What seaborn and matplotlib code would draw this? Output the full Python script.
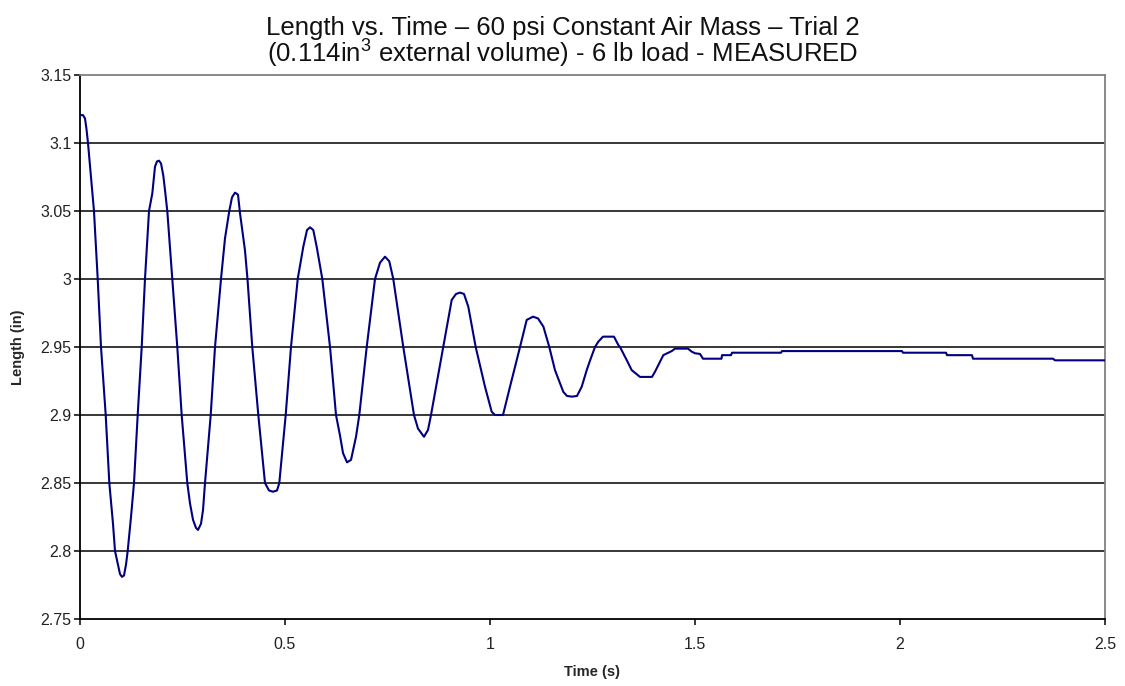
import matplotlib
matplotlib.use("Agg")
import matplotlib.pyplot as plt
import pandas as pd
import seaborn as sns

# Measured length trace (s, in)
time_s = [
    0.0000, 0.0073, 0.0122, 0.0159, 0.0195, 0.0268, 0.0341, 0.0432, 0.0512, 0.0627,
    0.0715, 0.0805, 0.0854, 0.0927, 0.0976, 0.1024, 0.1073, 0.1122, 0.1163, 0.1244,
    0.1317, 0.1407, 0.1505, 0.1585, 0.1683, 0.1764, 0.1829, 0.1878, 0.1927, 0.1976,
    0.2032, 0.2073, 0.2129, 0.2251, 0.2373, 0.2480, 0.2617, 0.2683, 0.2756, 0.2829,
    0.2878, 0.2951, 0.3000, 0.3049, 0.3188, 0.3293, 0.3439, 0.3537, 0.3641, 0.3707,
    0.3780, 0.3854, 0.3902, 0.4024, 0.4085, 0.4202, 0.4349, 0.4512, 0.4610, 0.4707,
    0.4805, 0.4861, 0.5017, 0.5146, 0.5310, 0.5446, 0.5537, 0.5610, 0.5690, 0.5773,
    0.5910, 0.6098, 0.6244, 0.6341, 0.6415, 0.6512, 0.6610, 0.6732, 0.6812, 0.6993,
    0.7195, 0.7317, 0.7439, 0.7544, 0.7641, 0.7885, 0.8146, 0.8244, 0.8390, 0.8488,
    0.8561, 0.8861, 0.9066, 0.9171, 0.9268, 0.9366, 0.9471, 0.9651, 0.9878, 1.0041,
    1.0122, 1.0317, 1.0488, 1.0732, 1.0895, 1.1049, 1.1171, 1.1302, 1.1446, 1.1585,
    1.1788, 1.1878, 1.2000, 1.2122, 1.2237, 1.2359, 1.2439, 1.2561, 1.2641, 1.2756,
    1.3024, 1.3129, 1.3171, 1.3334, 1.3456, 1.3659, 1.3951, 1.4024, 1.4227, 1.4432,
    1.4512, 1.4829, 1.4919, 1.5000, 1.5122, 1.5195, 1.5646, 1.5659, 1.5878, 1.5902,
    1.7098, 1.7122, 2.0049, 2.0073, 2.1122, 2.1146, 2.1756, 2.1780, 2.3732, 2.3780,
    2.5000,
]
length_in = [
    3.1205, 3.1205, 3.1180, 3.1100, 3.1000, 3.0750, 3.0500, 3.0000, 2.9500, 2.9000,
    2.8500, 2.8200, 2.8000, 2.7900, 2.7830, 2.7810, 2.7820, 2.7900, 2.8000, 2.8250,
    2.8500, 2.9000, 2.9500, 3.0000, 3.0500, 3.0630, 3.0826, 3.0865, 3.0870, 3.0850,
    3.0760, 3.0654, 3.0500, 3.0000, 2.9500, 2.9000, 2.8500, 2.8350, 2.8230, 2.8170,
    2.8155, 2.8200, 2.8300, 2.8500, 2.9000, 2.9500, 3.0000, 3.0300, 3.0500, 3.0600,
    3.0635, 3.0620, 3.0485, 3.0210, 3.0000, 2.9500, 2.9000, 2.8500, 2.8445, 2.8436,
    2.8445, 2.8500, 2.9000, 2.9500, 3.0000, 3.0237, 3.0360, 3.0380, 3.0360, 3.0237,
    3.0000, 2.9500, 2.9000, 2.8850, 2.8720, 2.8652, 2.8670, 2.8840, 2.9000, 2.9500,
    3.0000, 3.0120, 3.0164, 3.0130, 3.0000, 2.9500, 2.9000, 2.8900, 2.8840, 2.8890,
    2.9000, 2.9500, 2.9846, 2.9890, 2.9900, 2.9890, 2.9796, 2.9500, 2.9208, 2.9024,
    2.9000, 2.9000, 2.9208, 2.9500, 2.9699, 2.9723, 2.9710, 2.9650, 2.9500, 2.9330,
    2.9170, 2.9140, 2.9135, 2.9140, 2.9208, 2.9330, 2.9400, 2.9500, 2.9539, 2.9576,
    2.9576, 2.9515, 2.9500, 2.9404, 2.9330, 2.9280, 2.9280, 2.9318, 2.9440, 2.9470,
    2.9488, 2.9488, 2.9466, 2.9454, 2.9449, 2.9414, 2.9414, 2.9440, 2.9440, 2.9458,
    2.9458, 2.9470, 2.9470, 2.9458, 2.9458, 2.9440, 2.9440, 2.9414, 2.9414, 2.9402,
    2.9402,
]

x_ticks = [0, 0.5, 1, 1.5, 2, 2.5]
x_tick_labels = ["0", "0.5", "1", "1.5", "2", "2.5"]
y_ticks = [2.75, 2.8, 2.85, 2.9, 2.95, 3.0, 3.05, 3.1, 3.15]
y_tick_labels = ["2.75", "2.8", "2.85", "2.9", "2.95", "3", "3.05", "3.1", "3.15"]

title_line1 = "Length vs. Time \u2013 60 psi Constant Air Mass \u2013 Trial 2"
title_line2 = r"(0.114in$^{3}$ external volume) - 6 lb load - MEASURED"

df = pd.DataFrame({"Time (s)": time_s, "Length (in)": length_in})

sns.set_theme(style="white")
plt.rcParams["font.family"] = ["Liberation Sans", "DejaVu Sans"]
plt.rcParams["mathtext.fontset"] = "custom"
plt.rcParams["mathtext.rm"] = "Liberation Sans"
plt.rcParams["mathtext.it"] = "Liberation Sans"
plt.rcParams["mathtext.bf"] = "Liberation Sans:bold"

fig, ax = plt.subplots(figsize=(11.25, 6.86), dpi=100)
fig.subplots_adjust(left=80 / 1125, right=1105 / 1125, top=1 - 75 / 686, bottom=1 - 619 / 686)

sns.lineplot(data=df, x="Time (s)", y="Length (in)", ax=ax, estimator=None, sort=False,
             color="#000080", linewidth=1.5, zorder=3)

ax.set_xlim(0, 2.5)
ax.set_ylim(2.75, 3.15)
ax.set_xticks(x_ticks)
ax.set_xticklabels(x_tick_labels)
ax.set_yticks(y_ticks)
ax.set_yticklabels(y_tick_labels)

ax.grid(False)
for yv in y_ticks[1:-1]:
    ax.axhline(yv, color="black", linewidth=1.1, zorder=1)

for side in ("left", "bottom"):
    ax.spines[side].set_color("black")
    ax.spines[side].set_linewidth(1.3)
for side in ("top", "right"):
    ax.spines[side].set_visible(True)
    ax.spines[side].set_color("#808080")
    ax.spines[side].set_linewidth(1.3)

ax.tick_params(axis="both", which="major", direction="out", length=4, width=1.1,
               color="black", labelsize=11.5, labelcolor="#222222")
ax.tick_params(axis="y", pad=2)
ax.tick_params(axis="x", pad=9)
ax.tick_params(left=True, bottom=True)

ax.set_xlabel("Time (s)", fontsize=10.5, fontweight="bold", labelpad=9)
ax.set_ylabel("Length (in)", fontsize=10.5, fontweight="bold", labelpad=11)

fig.text(0.5, 1 - 28 / 686, title_line1, ha="center", va="center", fontsize=18.5,
         color="#111111")
fig.text(0.5, 1 - 54 / 686, title_line2, ha="center", va="center", fontsize=18.5,
         color="#111111")

fig.savefig("out.png", dpi=100, facecolor="white")
